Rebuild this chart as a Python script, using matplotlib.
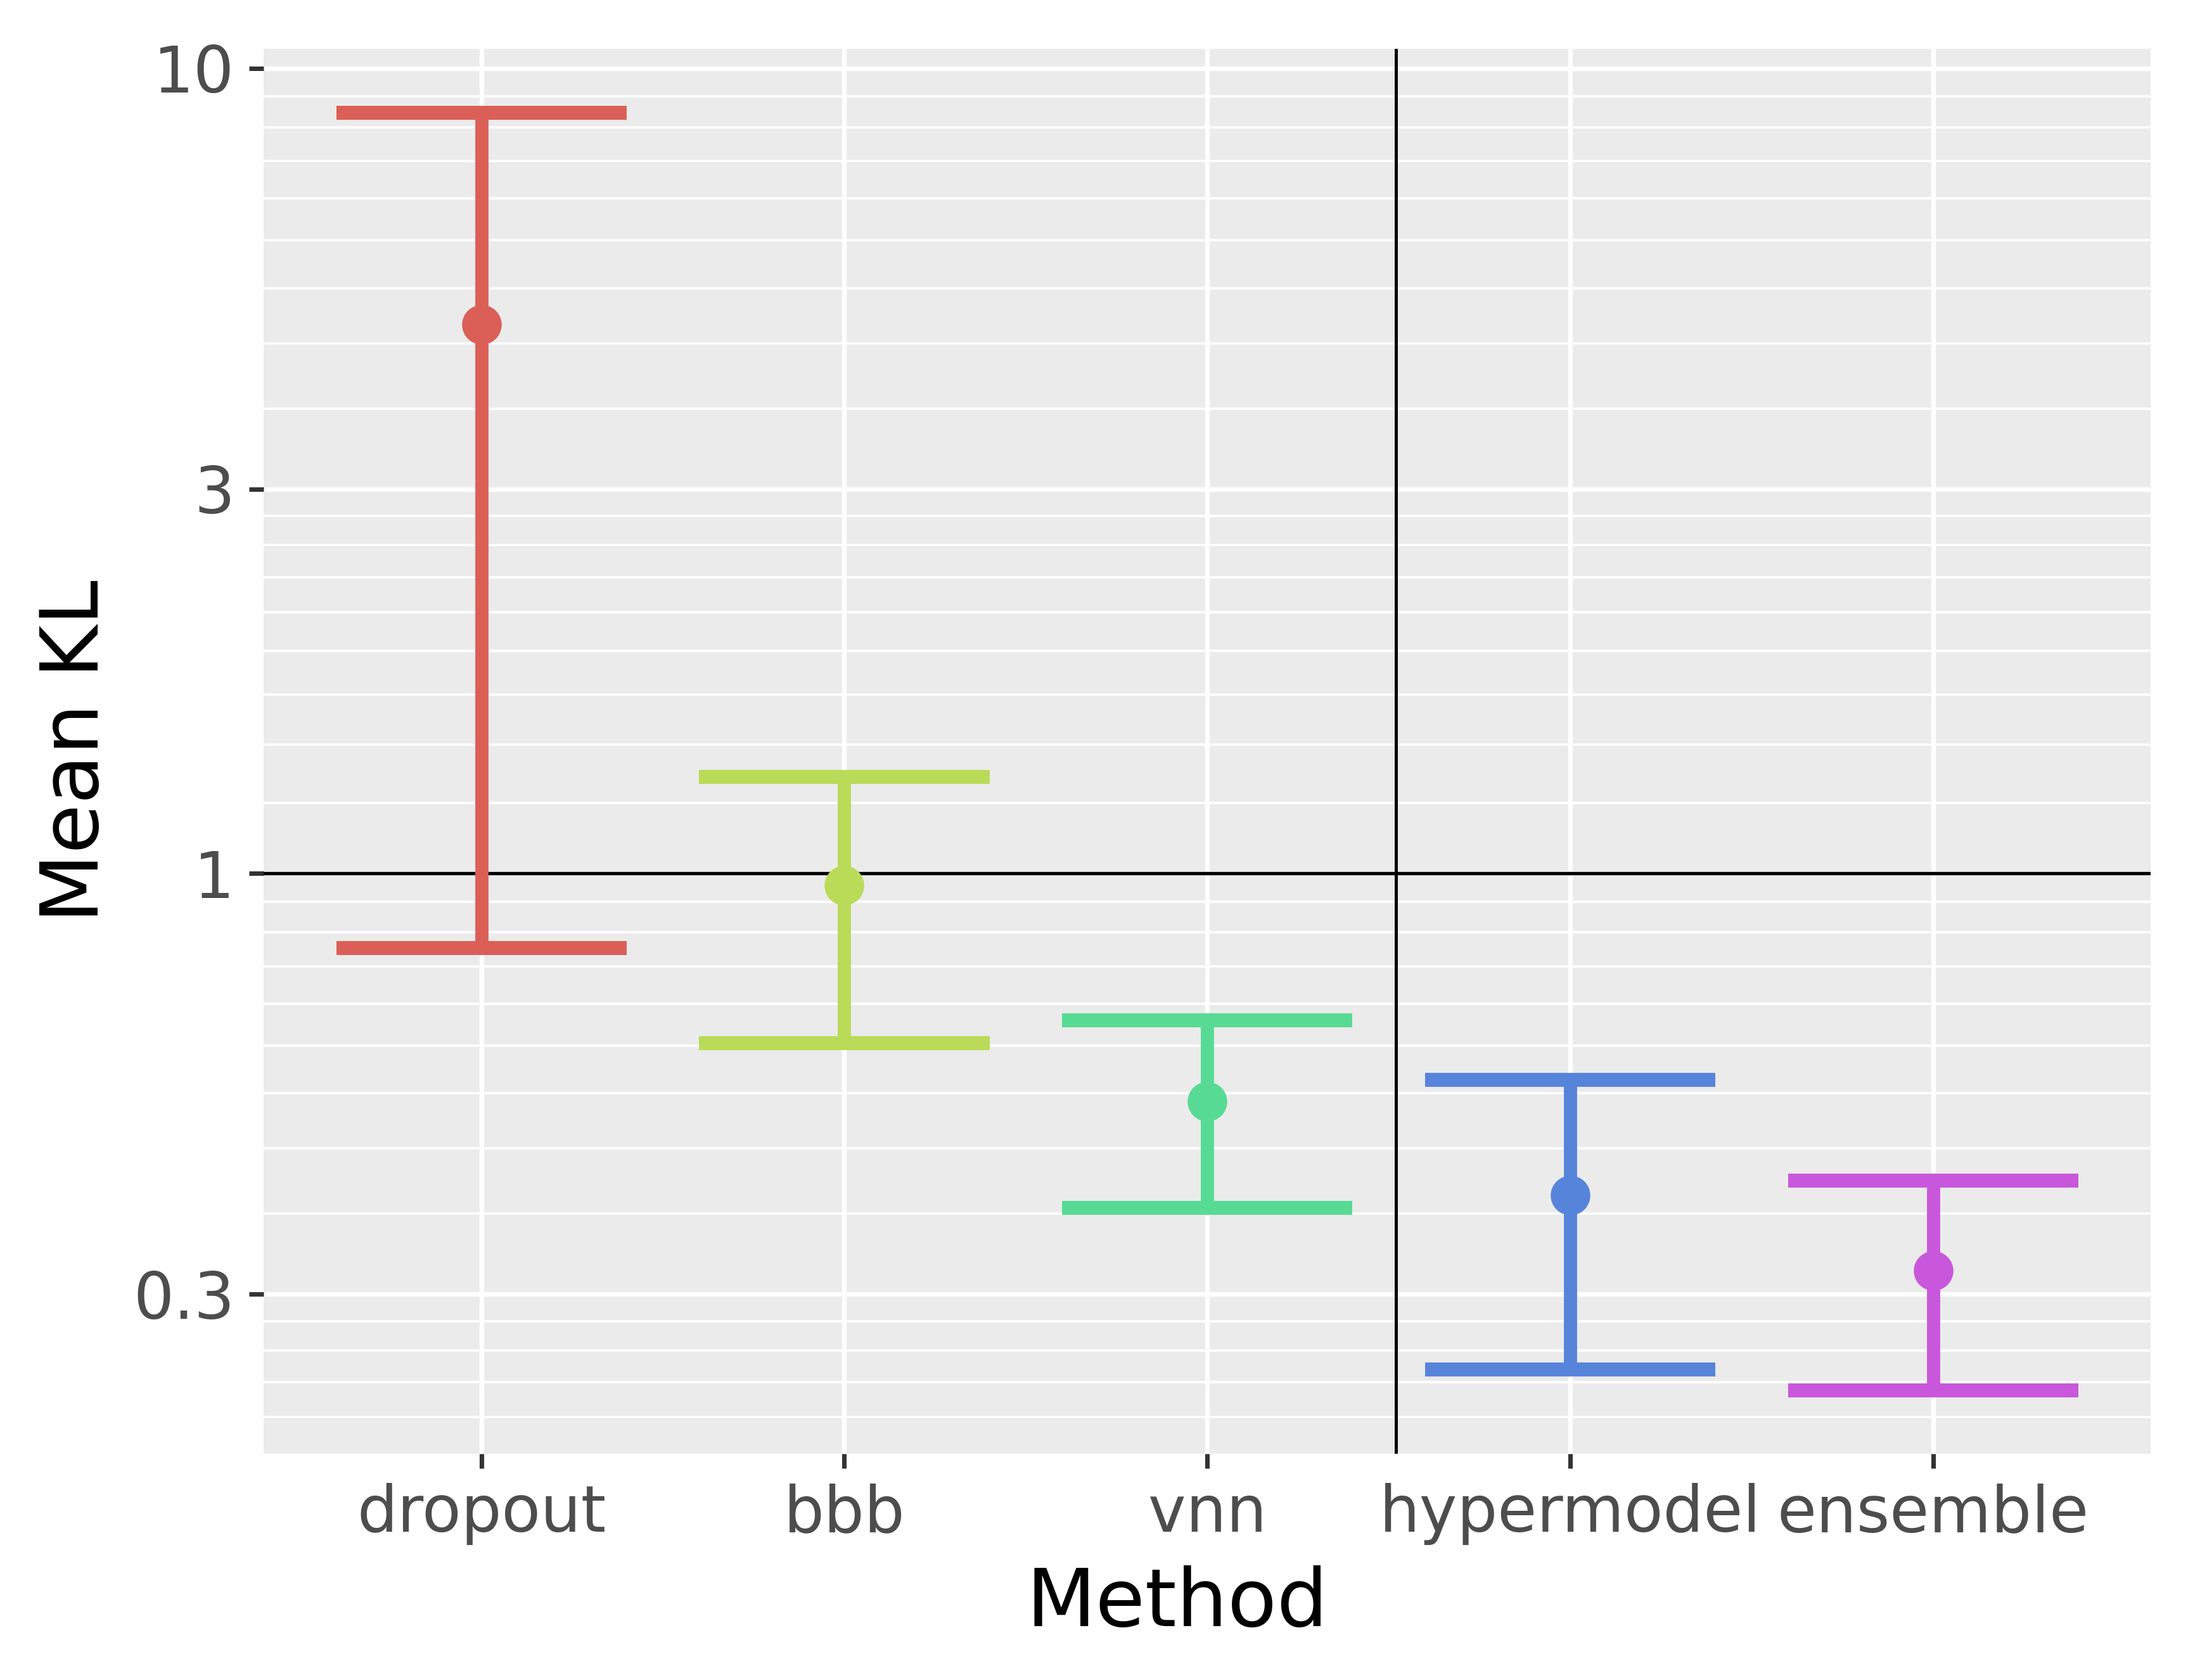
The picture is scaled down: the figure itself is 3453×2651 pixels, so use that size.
import matplotlib
matplotlib.use("Agg")
import matplotlib.pyplot as plt
import numpy as np
import seaborn as sns

# Values
methods = ["dropout", "bbb", "vnn", "hypermodel", "ensemble"]
mean_kl = [4.81, 0.966, 0.521, 0.398, 0.321]
lower = [0.808, 0.615, 0.384, 0.242, 0.228]
upper = [8.81, 1.317, 0.657, 0.554, 0.415]

major_ticks = [0.3, 1, 3, 10]
tick_labels = ["0.3", "1", "3", "10"]

colors = sns.color_palette("hls", len(methods))

fig = plt.figure(figsize=(3453 / 300, 2651 / 300), dpi=300)
ax = fig.add_axes([0.1205, 0.1345, 0.983 - 0.1205, 0.971 - 0.1345])
ax.set_facecolor("#EBEBEB")
for s in ax.spines.values():
    s.set_visible(False)

ax.set_yscale("log")

# minor grid: 9 linear steps between neighbouring major breaks
edges = [0.1] + major_ticks
minor = []
for a, b in zip(edges[:-1], edges[1:]):
    minor.extend(np.linspace(a, b, 10)[1:-1])
ax.set_yticks(major_ticks)
ax.set_yticklabels(tick_labels)
ax.set_yticks(minor, minor=True)
ax.yaxis.set_minor_formatter(matplotlib.ticker.NullFormatter())

x = np.arange(len(methods))
ax.set_xticks(x)
ax.set_xticklabels(methods)
ax.set_xlim(-0.6, len(methods) - 0.4)

lo = np.log10(min(lower))
hi = np.log10(max(upper))
pad = 0.05 * (hi - lo)
ax.set_ylim(10 ** (lo - pad), 10 ** (hi + pad))

ax.grid(which="major", axis="both", color="white", linewidth=1.75, zorder=0)
ax.grid(which="minor", axis="y", color="white", linewidth=0.9, zorder=0)
ax.set_axisbelow(True)

ax.tick_params(axis="both", which="major", length=5.5, width=1.7,
               color="#333333", labelcolor="#4D4D4D", labelsize=24.2, pad=5.5)
ax.tick_params(axis="y", which="minor", length=0)

ax.axhline(1, color="black", linewidth=1.3, zorder=1)
ax.axvline(2.52, color="black", linewidth=1.2, zorder=1)

cap = 0.4
for i in range(len(methods)):
    c = colors[i]
    ax.vlines(x[i], lower[i], upper[i], color=c, linewidth=5.0, zorder=2)
    ax.hlines([lower[i], upper[i]], x[i] - cap, x[i] + cap, color=c,
              linewidth=5.3, capstyle="butt", zorder=2)
    ax.plot(x[i], mean_kl[i], "o", color=c, markersize=15, markeredgewidth=0,
            zorder=3)

ax.set_xlabel("Method", fontsize=30.5, color="black")
ax.xaxis.set_label_coords(0.4842, -0.079)
ax.set_ylabel("Mean KL", fontsize=30.5, color="black", labelpad=7)

fig.savefig("out.png", dpi=300)
